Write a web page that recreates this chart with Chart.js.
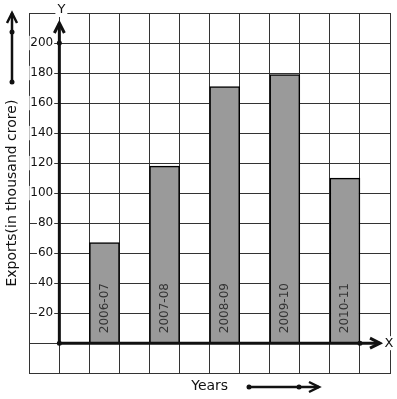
<!DOCTYPE html>
<html>
<head>
<meta charset="utf-8">
<script src="https://cdn.jsdelivr.net/npm/chart.js@4.4.0/dist/chart.umd.min.js"></script>
<style>
  html, body { margin: 0; padding: 0; background: #fff; }
</style>
</head>
<body>
<canvas id="exportsChart" width="397" height="399"></canvas>
<script>
const years = ['2006-07', '2007-08', '2008-09', '2009-10', '2010-11'];
const exportsValues = [67, 118, 171, 179, 110];
const yTicks = [20, 40, 60, 80, 100, 120, 140, 160, 180, 200];
const yMin = -20;
const yMax = 220;

// 12 grid columns: one left of the Y axis, then each year in every other column
const slots = ['', ''];
const slotValues = [null, null];
years.forEach((yr, i) => {
    slots.push(yr, '');
    slotValues.push(exportsValues[i], null);
});

const FONT = 'DejaVu Sans';
const ink = '#111';

function dot(ctx, x, y) {
    ctx.beginPath();
    ctx.arc(x, y, 2.5, 0, Math.PI * 2);
    ctx.fill();
}

function arrowLine(ctx, x1, y1, x2, y2, dots) {
    ctx.beginPath();
    ctx.moveTo(x1, y1);
    ctx.lineTo(x2, y2);
    ctx.stroke();
    const a = Math.atan2(y2 - y1, x2 - x1);
    ctx.beginPath();
    ctx.moveTo(x2 - 10 * Math.cos(a) + 5 * Math.sin(a), y2 - 10 * Math.sin(a) - 5 * Math.cos(a));
    ctx.lineTo(x2, y2);
    ctx.lineTo(x2 - 10 * Math.cos(a) - 5 * Math.sin(a), y2 - 10 * Math.sin(a) + 5 * Math.cos(a));
    ctx.stroke();
    dots.forEach(p => dot(ctx, p[0], p[1]));
}

function boxedText(ctx, text, x, y) {
    const w = ctx.measureText(text).width;
    ctx.fillStyle = '#fff';
    ctx.fillRect(x - w / 2 - 2, y - 7, w + 4, 14);
    ctx.fillStyle = ink;
    ctx.fillText(text, x, y);
}

const decorations = {
    id: 'decorations',
    afterDatasetsDraw(chart) {
        const { ctx, chartArea, scales: { x, y } } = chart;
        ctx.save();

        // year labels inside the bars
        const meta = chart.getDatasetMeta(0);
        ctx.font = '12px ' + FONT;
        ctx.fillStyle = '#333';
        ctx.textAlign = 'left';
        ctx.textBaseline = 'middle';
        meta.data.forEach((bar, i) => {
            const label = chart.data.labels[i];
            if (!label || slotValues[i] === null) return;
            ctx.save();
            ctx.translate(bar.x, y.getPixelForValue(0) - 10);
            ctx.rotate(-Math.PI / 2);
            ctx.fillText(label, 0, 0);
            ctx.restore();
        });

        // bold axes with arrows
        const ox = x.getPixelForValue(0.5);
        const oy = y.getPixelForValue(0);
        ctx.strokeStyle = ink;
        ctx.fillStyle = ink;
        ctx.lineWidth = 3;
        arrowLine(ctx, ox, oy, ox, chartArea.top + 10, [[ox, oy], [ox, y.getPixelForValue(200)]]);
        arrowLine(ctx, ox, oy, chartArea.right - 10, oy, [[x.getPixelForValue(10.5), oy]]);

        ctx.lineWidth = 2.5;
        arrowLine(ctx, 12, 82, 12, 13, [[12, 32], [12, 82]]);
        arrowLine(ctx, 249, 387, 319, 387, [[249, 387], [299, 387]]);

        ctx.font = '13px ' + FONT;
        ctx.textAlign = 'center';
        ctx.textBaseline = 'middle';
        boxedText(ctx, 'Y', ox + 2, chartArea.top - 3);
        boxedText(ctx, 'X', chartArea.right - 1, oy);
        ctx.restore();
    }
};

new Chart(document.getElementById('exportsChart'), {
    type: 'bar',
    data: {
        labels: slots,
        datasets: [{
            data: slotValues,
            backgroundColor: '#9a9a9a',
            borderColor: '#000',
            borderWidth: 1.5,
            barPercentage: 1,
            categoryPercentage: 1
        }]
    },
    options: {
        responsive: false,
        animation: false,
        devicePixelRatio: 1,
        layout: { padding: { top: 13, right: 7, left: 0, bottom: 0 } },
        plugins: {
            legend: { display: false },
            tooltip: { enabled: false }
        },
        scales: {
            x: {
                grid: { color: '#333', lineWidth: 1, drawTicks: false },
                border: { color: '#333', width: 1 },
                ticks: { display: false },
                title: {
                    display: true,
                    text: 'Years',
                    color: ink,
                    font: { family: FONT, size: 14 },
                    padding: { top: 5, bottom: 4 }
                }
            },
            y: {
                min: yMin,
                max: yMax,
                grid: { color: '#333', lineWidth: 1, drawTicks: false },
                border: { color: '#333', width: 1 },
                ticks: {
                    stepSize: 20,
                    mirror: true,
                    crossAlign: 'far',
                    padding: 1,
                    color: ink,
                    font: { family: FONT, size: 12 },
                    showLabelBackdrop: true,
                    backdropColor: c => yTicks.includes(c.tick.value) ? '#fff' : 'rgba(0,0,0,0)',
                    backdropPadding: { x: 1, y: 0 },
                    callback: v => yTicks.includes(v) ? String(v) : ''
                },
                title: {
                    display: true,
                    text: 'Exports(in thousand crore)',
                    color: ink,
                    font: { family: FONT, size: 14 },
                    padding: { top: 4, bottom: 6.5 }
                }
            }
        }
    },
    plugins: [decorations]
});
</script>
</body>
</html>
